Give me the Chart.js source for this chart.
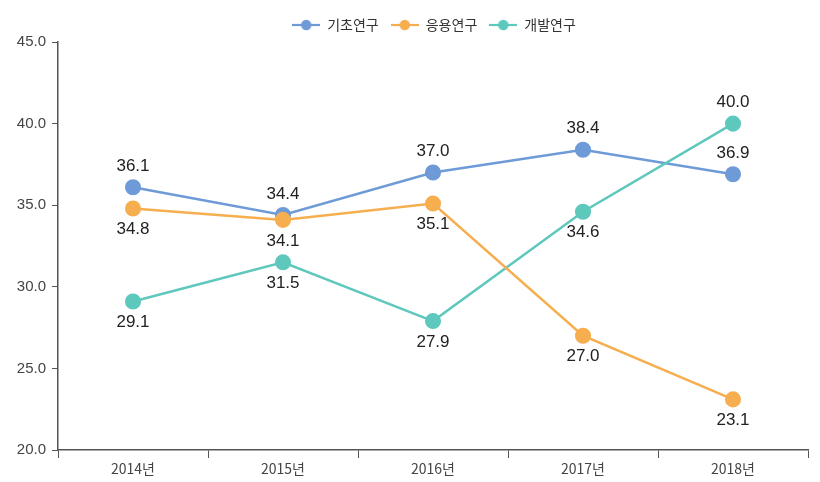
<!DOCTYPE html>
<html><head><meta charset="utf-8">
<script src="https://cdn.jsdelivr.net/npm/chart.js@4/dist/chart.umd.min.js"></script>
<style>html,body{margin:0;padding:0;background:#fff}#wrap{width:820px;height:482px}</style>
</head><body><div id="wrap"><canvas id="c" width="820" height="482"></canvas></div>
<script>
const categories = ['2014년','2015년','2016년','2017년','2018년'];
const basicResearch = [36.1, 34.4, 37.0, 38.4, 36.9];
const appliedResearch = [34.8, 34.1, 35.1, 27.0, 23.1];
const devResearch = [29.1, 31.5, 27.9, 34.6, 40.0];
const seriesNames = ['기초연구','응용연구','개발연구'];
const colors = ['#6e9bd8','#f6ae4f','#5ec8bd'];
const drawOrder = [1, 0, 0];
// label placement: 1 above, -1 below
const labelSide = [[1,1,1,1,1],[-1,-1,-1,-1,-1],[-1,-1,-1,-1,1]];

function legendIcon(color){
  const c=document.createElement('canvas'); c.width=28; c.height=12;
  const x=c.getContext('2d');
  x.strokeStyle=color; x.lineWidth=2.2;
  x.beginPath(); x.moveTo(0,6); x.lineTo(28,6); x.stroke();
  x.fillStyle=color; x.beginPath(); x.arc(14,6,5.2,0,Math.PI*2); x.fill();
  return c;
}

const labelPlugin = {
  id:'valueLabels',
  beforeDraw(chart){
    if(chart.legend){ chart.legend.left = 60; }
  },
  afterDatasetsDraw(chart){
    const ctx=chart.ctx;
    ctx.save();
    ctx.font='17px "Liberation Sans", Arial, sans-serif';
    ctx.fillStyle='#222';
    ctx.textAlign='center'; ctx.textBaseline='middle';
    chart.data.datasets.forEach((ds,di)=>{
      const meta=chart.getDatasetMeta(di);
      meta.data.forEach((pt,i)=>{
        const y=pt.y - labelSide[di][i]*21;
        ctx.fillText(ds.data[i].toFixed(1), pt.x, y);
      });
    });
    ctx.restore();
  }
};

const datasets=[basicResearch,appliedResearch,devResearch].map((d,i)=>({
  label:seriesNames[i], data:d, borderColor:colors[i], backgroundColor:colors[i],
  pointBackgroundColor:colors[i], pointBorderColor:colors[i], order:drawOrder[i],
  borderWidth:2.5, pointRadius:6.8, pointHoverRadius:6.8, tension:0
}));

new Chart(document.getElementById('c'),{
  type:'line',
  data:{labels:categories, datasets},
  plugins:[labelPlugin],
  options:{
    responsive:false, animation:false, devicePixelRatio:1,
    layout:{padding:{top:6,right:12,left:0,bottom:0}},
    plugins:{
      tooltip:{enabled:false},
      legend:{
        position:'top', align:'center',
        labels:{
          usePointStyle:true, pointStyleWidth:28, boxHeight:12, padding:12,
          font:{family:'"Noto Sans CJK KR", sans-serif', size:14}, color:'#333',
          generateLabels(chart){
            return chart.data.datasets.map((ds,i)=>({
              text:ds.label, pointStyle:legendIcon(colors[i]), fillStyle:colors[i],
              strokeStyle:colors[i], lineWidth:0, hidden:false, datasetIndex:i, fontColor:'#333'
            }));
          }
        }
      }
    },
    scales:{
      x:{
        offset:true,
        grid:{display:true, drawOnChartArea:false, drawTicks:true, tickLength:8, color:'#555', offset:true},
        border:{display:true, color:'#555', width:1.5},
        ticks:{font:{family:'"Noto Sans CJK KR", sans-serif', size:14}, color:'#444', padding:2},
        afterFit(s){ s.height=32; }
      },
      y:{
        min:20, max:45,
        grid:{display:true, drawOnChartArea:false, drawTicks:true, tickLength:6, color:'#555'},
        border:{display:true, color:'#555', width:1.5},
        ticks:{stepSize:5, callback:v=>v.toFixed(1), font:{family:'"Liberation Sans", sans-serif', size:15}, color:'#444', padding:6},
        afterFit(s){ s.width=58; }
      }
    }
  }
});
</script>
</body></html>
